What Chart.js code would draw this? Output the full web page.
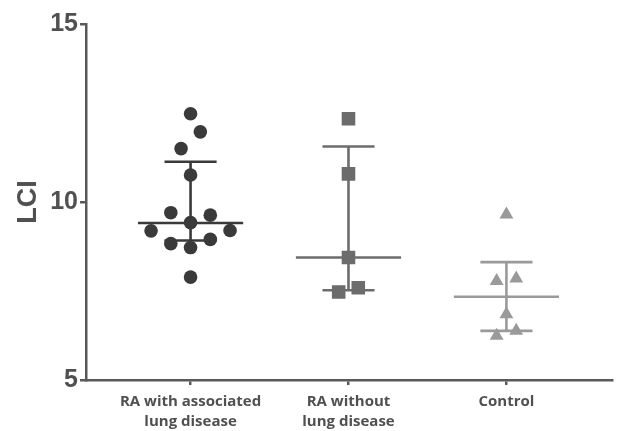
<!DOCTYPE html>
<html>
<head>
<meta charset="utf-8">
<script src="https://cdn.jsdelivr.net/npm/chart.js@4"></script>
<style>
  html, body { margin: 0; padding: 0; background: #fff; }
  #wrap { width: 622px; height: 431px; }
</style>
</head>
<body>
<div id="wrap"><canvas id="lciChart"></canvas></div>
<script>
// LCI by group: scatter with median and interquartile range

const groupLabels = [["RA with associated", "lung disease"], ["RA without", "lung disease"], ["Control"]];
const groupColors = ["#3a3a3a", "#6c6c6c", "#9a9a9a"];
const groupShapes = ["circle", "rect", "triangle"];
const groupRadius = [6.8, 9.6, 8];

// per-subject values and their horizontal jitter (category units)
const raLungValues = [12.48, 11.97, 11.5, 10.76, 9.7, 9.63, 9.42, 9.19, 9.2, 8.83, 8.95, 8.72, 7.89];
const raLungJitter = [0, 0.062, -0.06, 0, -0.125, 0.125, 0, -0.25, 0.25, -0.125, 0.125, 0, 0];
const raNoLungValues = [12.34, 10.79, 8.44, 7.47, 7.59];
const raNoLungJitter = [0, 0, 0, -0.062, 0.062];
const controlValues = [9.65, 7.78, 7.85, 6.85, 6.38, 6.24];
const controlJitter = [0, -0.062, 0.062, 0, 0.062, -0.062];

const medians = [9.41, 8.44, 7.34];
const lowerQ = [8.92, 7.52, 6.38];
const upperQ = [11.13, 11.56, 8.31];

const yTicks = [5, 10, 15];

const groupValues = [raLungValues, raNoLungValues, controlValues];
const groupJitter = [raLungJitter, raNoLungJitter, controlJitter];

const datasets = [];
const segment = (a, b, color) => ({
  type: "line",
  data: [a, b],
  borderColor: color,
  borderWidth: 2.6,
  pointRadius: 0,
  fill: false,
  order: 2
});

groupValues.forEach((vals, i) => {
  const g = i + 1;
  const c = groupColors[i];
  datasets.push(segment({ x: g - 0.333, y: medians[i] }, { x: g + 0.333, y: medians[i] }, c));
  datasets.push(segment({ x: g, y: lowerQ[i] }, { x: g, y: upperQ[i] }, c));
  datasets.push(segment({ x: g - 0.165, y: lowerQ[i] }, { x: g + 0.165, y: lowerQ[i] }, c));
  datasets.push(segment({ x: g - 0.165, y: upperQ[i] }, { x: g + 0.165, y: upperQ[i] }, c));
  datasets.push({
    type: "scatter",
    data: vals.map((v, k) => ({ x: g + groupJitter[i][k], y: v })),
    pointStyle: groupShapes[i],
    pointRadius: groupRadius[i],
    pointHoverRadius: groupRadius[i],
    backgroundColor: c,
    borderColor: c,
    borderWidth: 0,
    order: 1
  });
});

const axisColor = "#595959";

new Chart(document.getElementById("lciChart"), {
  type: "scatter",
  data: { datasets },
  options: {
    responsive: true,
    maintainAspectRatio: false,
    animation: false,
    layout: { padding: { top: 24, right: 1, left: 0, bottom: 0 } },
    plugins: { legend: { display: false }, tooltip: { enabled: false } },
    scales: {
      x: {
        type: "linear",
        min: 0.338,
        max: 3.671,
        afterBuildTicks: (s) => { s.ticks = groupLabels.map((_, i) => ({ value: i + 1 })); },
        afterFit: (s) => { s.height = 51; },
        border: { display: true, color: axisColor, width: 2.5 },
        grid: { drawOnChartArea: false, drawTicks: true, tickLength: 5, color: axisColor, lineWidth: 2.5 },
        ticks: {
          autoSkip: false,
          maxRotation: 0,
          padding: 7,
          color: "#505050",
          font: { family: "Open Sans", size: 15, weight: "bold", lineHeight: 1.3 },
          callback: (v) => groupLabels[v - 1]
        }
      },
      y: {
        min: 5,
        max: 15,
        afterBuildTicks: (s) => { s.ticks = yTicks.map((v) => ({ value: v })); },
        afterFit: (s) => { s.width = 86; },
        border: { display: true, color: axisColor, width: 2.5 },
        grid: { drawOnChartArea: false, drawTicks: true, tickLength: 6, color: axisColor, lineWidth: 2.5 },
        ticks: {
          padding: 2,
          color: "#505050",
          font: { family: "Liberation Sans", size: 25, weight: "bold" }
        },
        title: {
          display: true,
          text: "LCI",
          color: "#505050",
          padding: { top: 12, bottom: 0 },
          font: { family: "Liberation Sans", size: 27, weight: "bold" }
        }
      }
    }
  }
});
</script>
</body>
</html>
